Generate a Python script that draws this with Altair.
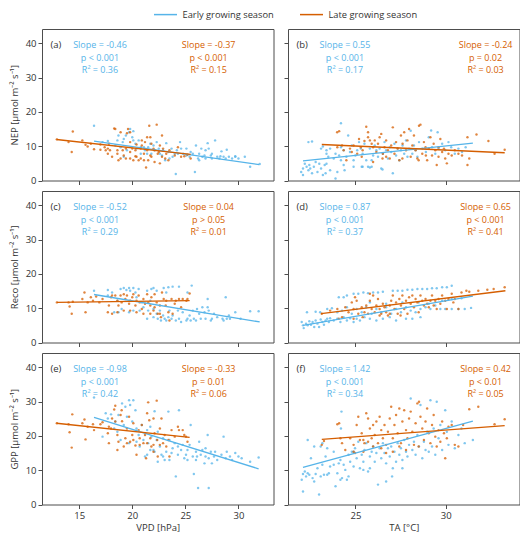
import altair as alt
import pandas as pd

BLUE = "#56B4E9"
ORANGE = "#D55E00"
INK = "#333333"
FRAME = "#4d4d4d"
FONT = "Open Sans"
SEASONS = ["Early growing season", "Late growing season"]

vpd_ticks = [15, 20, 25, 30]
ta_ticks = [25, 30]
y_ticks = [0, 10, 20, 30, 40]
vpd_domain = [11.5, 33.3]
ta_domain = [21.27, 34.08]
y_domain = [0, 44.2]

row_titles = ["NEP [µmol m⁻² s⁻¹]", "Reco [µmol m⁻² s⁻¹]", "GPP [µmol m⁻² s⁻¹]"]
col_titles = ["VPD [hPa]", "TA [°C]"]
letters = ["(a)", "(b)", "(c)", "(d)", "(e)", "(f)"]

early_stats = [
    ["Slope = -0.46", "p < 0.001", "R² = 0.36"],
    ["Slope = 0.55", "p < 0.001", "R² = 0.17"],
    ["Slope = -0.52", "p < 0.001", "R² = 0.29"],
    ["Slope = 0.87", "p < 0.001", "R² = 0.37"],
    ["Slope = -0.98", "p < 0.001", "R² = 0.42"],
    ["Slope = 1.42", "p < 0.001", "R² = 0.34"],
]
late_stats = [
    ["Slope = -0.37", "p < 0.001", "R² = 0.15"],
    ["Slope = -0.24", "p = 0.02", "R² = 0.03"],
    ["Slope = 0.04", "p > 0.05", "R² = 0.01"],
    ["Slope = 0.65", "p < 0.001", "R² = 0.41"],
    ["Slope = -0.33", "p = 0.01", "R² = 0.06"],
    ["Slope = 0.42", "p < 0.01", "R² = 0.05"],
]

# fitted line end points: [x_start, x_end, y_start, y_end]
fit_early = [
    [16.4, 31.95, 11.5, 4.65],
    [22.1, 31.5, 5.7, 10.9],
    [16.4, 32.0, 14.0, 6.0],
    [22.1, 31.5, 5.0, 13.5],
    [16.4, 31.9, 25.4, 10.4],
    [22.1, 31.5, 10.8, 24.3],
]
fit_late = [
    [12.87, 25.5, 11.96, 7.6],
    [23.14, 33.26, 10.5, 8.1],
    [12.9, 25.4, 11.7, 12.2],
    [23.1, 33.3, 8.4, 15.1],
    [12.87, 25.4, 23.7, 19.6],
    [23.14, 33.26, 19.0, 23.0],
]

# (a) VPD vs NEP
a_early = [[16.4,16.0],[17.2,11.2],[17.7,11.5],[18.4,10.2],[18.6,11.7],[19.1,11.2],[19.4,13.1],[19.7,14.1],[19.8,15.0],[20.1,14.4],[20.0,12.6],[20.3,10.7],[20.4,9.3],[20.6,11.7],[20.8,9.7],[21.1,9.7],[21.2,8.8],[21.5,9.7],[21.7,10.7],[22.0,10.2],[22.1,8.8],[22.3,11.2],[22.5,9.3],[22.8,7.3],[22.9,8.8],[23.2,10.9],[23.4,8.3],[23.7,9.3],[23.8,6.9],[24.0,7.8],[24.1,1.9],[24.3,7.8],[24.5,11.2],[24.6,9.3],[24.8,7.8],[25.1,7.3],[25.4,6.9],[25.7,7.8],[25.9,2.5],[26.0,10.2],[26.2,6.4],[26.3,7.8],[26.5,9.3],[26.6,6.9],[26.8,7.3],[26.9,6.4],[27.1,10.9],[27.2,9.3],[27.4,7.3],[27.5,6.4],[27.8,11.7],[28.0,6.9],[28.2,6.4],[28.4,8.5],[28.6,6.9],[28.9,9.0],[29.1,6.9],[29.4,6.4],[29.7,7.1],[30.0,6.4],[30.6,6.9],[31.1,4.0],[32.0,4.8],[18.9,9.7],[19.2,6.9],[19.5,8.8],[20.8,7.8],[21.4,7.8],[21.8,7.8],[22.6,7.8],[23.1,5.9],[23.5,6.4],[24.2,8.8],[25.1,9.3],[25.5,8.3],[26.3,5.9],[26.9,8.8],[27.5,7.8],[28.3,7.1],[28.8,6.4],[29.7,6.9],[20.1,11.7],[18.7,13.1],[19.2,12.1]]
a_late = [[12.9,12.0],[14.4,14.3],[14.3,8.3],[14.0,11.2],[15.3,11.7],[15.6,10.4],[15.8,9.9],[16.1,10.7],[16.4,9.1],[17.0,10.5],[17.4,9.7],[17.7,9.3],[17.8,10.7],[17.9,8.8],[18.3,15.2],[18.4,15.0],[18.6,8.8],[18.9,14.1],[19.1,8.8],[19.2,7.3],[19.4,6.4],[19.5,13.8],[19.6,15.0],[19.8,8.3],[20.0,9.3],[20.1,5.9],[20.3,7.1],[20.4,6.9],[20.8,6.4],[20.9,10.2],[21.1,7.8],[21.2,11.2],[21.3,3.8],[21.5,5.9],[21.6,16.0],[21.7,12.6],[21.8,6.9],[22.0,9.3],[22.1,5.4],[22.3,16.3],[22.4,7.8],[22.6,5.0],[22.8,13.1],[22.9,9.3],[23.1,6.4],[23.2,7.8],[23.4,5.9],[23.5,8.8],[24.0,7.3],[24.3,9.7],[24.6,6.9],[24.9,7.1],[25.2,7.5],[25.5,6.4],[18.1,6.9],[18.7,5.9],[19.8,6.4],[20.6,5.9],[18.9,6.4],[19.4,9.3],[20.3,8.8],[20.8,9.3],[21.4,8.8],[18.6,7.8],[17.7,7.8],[17.0,9.0],[17.5,8.8],[22.1,8.8],[22.5,8.3],[22.8,6.9],[21.7,7.3],[21.1,5.9],[20.4,10.5],[19.8,11.2],[21.8,10.7],[19.8,14.1],[22.6,10.2],[20.9,11.7],[21.4,12.6]]

# (b) TA vs NEP
b_early = [[22.1,3.5],[22.0,2.5],[22.1,1.6],[22.3,4.0],[22.4,3.0],[22.45,4.5],[22.5,3.5],[22.6,2.1],[22.2,4.9],[22.7,4.0],[22.8,5.4],[22.9,2.5],[23.0,4.9],[23.1,3.5],[23.2,1.6],[23.3,4.5],[23.9,0.6],[22.4,11.2],[22.6,11.4],[23.1,9.3],[23.2,9.9],[23.4,7.8],[23.4,8.8],[23.5,6.9],[23.6,9.3],[23.8,6.4],[23.9,7.8],[24.0,2.5],[24.1,7.3],[24.2,16.7],[24.2,9.7],[24.35,8.8],[24.4,3.0],[24.5,6.9],[24.6,13.1],[24.7,8.3],[24.8,10.2],[24.9,5.9],[25.0,7.3],[25.1,8.8],[25.2,11.2],[25.3,9.3],[25.35,4.0],[25.4,7.8],[25.5,10.7],[25.6,5.9],[25.7,4.0],[25.8,9.3],[25.9,4.0],[25.98,7.3],[26.07,10.2],[26.16,8.8],[26.25,6.9],[26.34,9.3],[26.43,3.5],[26.52,7.8],[26.61,11.2],[26.7,8.8],[26.8,6.4],[26.9,9.7],[26.98,8.3],[27.07,2.1],[27.16,10.7],[27.25,7.3],[27.34,9.3],[27.43,5.9],[27.52,8.8],[27.61,10.2],[27.7,7.8],[27.8,11.7],[27.88,6.9],[27.97,9.3],[28.06,14.5],[28.15,7.8],[28.24,10.2],[28.33,8.8],[28.43,6.9],[28.52,11.2],[28.7,9.3],[28.9,8.3],[29.06,12.6],[29.19,14.6],[29.24,9.7],[29.42,7.8],[29.55,14.1],[29.6,9.3],[29.8,10.7],[29.97,8.8],[30.15,11.2],[30.3,9.7],[30.5,7.8],[30.7,9.3],[30.9,8.3],[31.1,9.7],[25.4,4.0],[25.8,3.8],[26.5,3.2],[25.9,5.9],[24.9,4.0],[24.35,4.5],[23.6,3.0],[23.4,4.9],[23.35,2.1],[24.2,5.9]]
b_late = [[23.99,14.1],[24.1,14.4],[25.6,15.7],[25.7,14.1],[25.7,12.6],[25.5,11.5],[25.2,12.1],[24.9,10.2],[24.7,9.3],[24.26,10.2],[24.0,9.7],[24.35,8.8],[24.8,8.3],[25.1,7.8],[25.3,9.7],[25.4,8.8],[25.8,11.7],[25.9,10.7],[25.98,9.7],[26.07,11.7],[26.16,8.3],[26.25,10.7],[26.34,12.6],[26.43,13.6],[26.52,7.8],[26.61,9.7],[26.7,11.7],[26.8,8.8],[26.9,6.4],[26.98,10.2],[27.07,15.5],[27.16,7.8],[27.25,11.2],[27.34,9.3],[27.43,5.9],[27.52,13.1],[27.61,10.7],[27.7,14.1],[27.8,8.8],[27.88,11.7],[27.97,15.0],[28.06,6.9],[28.15,10.2],[28.24,13.1],[28.33,8.8],[28.43,6.4],[28.52,16.0],[28.6,16.3],[28.7,7.8],[28.79,11.2],[28.88,9.7],[28.97,5.9],[29.06,9.3],[29.15,12.6],[29.24,7.3],[29.33,10.7],[29.42,8.8],[29.5,4.5],[29.6,6.9],[29.7,12.1],[29.8,8.3],[29.9,9.3],[29.97,6.4],[30.06,5.0],[30.15,7.8],[30.33,7.3],[30.5,8.8],[30.7,7.8],[30.9,7.3],[31.2,4.5],[31.2,12.6],[31.3,6.4],[31.7,13.4],[32.36,11.5],[32.7,7.8],[33.26,9.0],[24.5,5.9],[25.35,6.9],[25.98,5.4],[26.7,6.9],[26.5,6.4],[27.6,6.4],[28.5,5.9],[28.9,7.3],[29.6,9.7]]

# (c) VPD vs Reco
c_early = [[16.4,15.1],[17.7,15.3],[18.1,14.6],[18.9,15.6],[19.2,15.9],[19.45,15.3],[19.7,15.9],[19.8,15.1],[20.1,15.9],[20.3,14.6],[20.6,15.6],[21.4,15.1],[21.8,15.6],[22.0,15.9],[22.3,15.1],[22.96,15.9],[23.2,14.6],[23.4,16.1],[23.8,16.3],[24.4,16.3],[25.2,14.6],[25.6,16.6],[18.3,8.8],[18.7,8.8],[19.0,9.8],[19.7,8.8],[20.1,9.3],[20.7,9.3],[21.05,10.3],[21.5,9.3],[21.7,12.2],[22.0,9.8],[22.3,8.4],[22.4,6.9],[22.6,9.3],[22.7,6.4],[22.9,7.9],[23.05,6.9],[23.2,6.4],[23.4,7.4],[23.5,9.3],[23.7,6.9],[23.8,7.9],[24.1,6.4],[24.3,9.3],[24.4,6.9],[24.6,6.0],[24.75,8.8],[25.1,6.4],[25.2,6.9],[25.4,7.9],[25.5,6.4],[25.7,9.3],[25.8,6.9],[26.0,6.4],[26.1,9.8],[26.3,8.4],[26.45,6.9],[26.6,10.3],[26.8,8.8],[26.9,6.9],[27.1,12.7],[27.1,10.3],[27.2,9.3],[27.4,6.4],[27.5,6.9],[27.7,8.4],[28.0,7.4],[28.5,6.9],[28.6,6.4],[28.8,13.2],[28.9,6.9],[29.1,7.9],[29.2,6.9],[29.7,8.8],[30.2,6.9],[31.1,9.1],[31.9,9.1],[21.4,6.9],[22.0,7.4],[20.9,11.7],[20.4,13.2],[18.6,12.2],[17.7,13.7]]
c_late = [[12.9,11.7],[14.0,11.7],[14.1,10.5],[14.3,8.4],[14.4,11.9],[15.3,12.7],[15.5,14.6],[15.6,8.8],[15.8,11.7],[16.1,13.2],[16.3,12.2],[16.6,13.4],[16.9,11.7],[17.2,12.7],[17.7,8.8],[17.8,10.8],[18.0,13.2],[18.1,8.4],[18.4,13.7],[18.6,12.2],[18.7,10.8],[18.9,13.7],[19.0,11.7],[19.2,9.3],[19.35,12.7],[19.5,13.7],[19.7,11.3],[19.8,12.2],[20.0,13.2],[20.3,10.8],[20.4,12.2],[20.6,13.7],[20.7,11.7],[20.9,9.8],[21.05,12.7],[21.2,11.3],[21.4,14.1],[21.5,11.7],[21.7,10.8],[21.8,13.2],[22.0,9.3],[22.1,14.1],[22.3,11.7],[22.4,8.4],[22.6,10.8],[22.7,7.4],[22.8,14.6],[22.96,12.7],[23.15,10.8],[23.4,8.8],[23.5,6.4],[23.7,12.7],[24.0,11.3],[24.1,12.2],[24.4,12.7],[24.6,10.3],[24.75,12.7],[25.1,12.2],[25.2,12.7],[25.4,14.3],[18.1,13.7],[18.6,8.8],[20.4,8.8],[19.8,9.3],[21.05,8.4],[21.7,8.4],[22.1,10.3],[22.6,8.4],[23.8,8.4],[23.2,12.2],[19.2,14.1],[20.1,14.1]]

# (d) TA vs Reco
d_early = [[22.03,6.0],[22.1,5.0],[22.14,4.2],[22.27,5.5],[22.36,5.0],[22.45,6.2],[22.54,5.2],[22.63,6.0],[22.72,4.5],[22.8,6.4],[22.9,5.5],[22.99,4.5],[23.08,6.7],[23.17,6.0],[23.26,5.2],[23.35,6.4],[23.44,6.9],[23.53,6.0],[23.6,7.1],[23.8,6.4],[24.0,6.9],[24.17,6.0],[24.35,7.4],[24.53,6.4],[24.71,7.1],[24.9,6.0],[25.07,6.9],[25.25,6.4],[25.5,7.4],[25.8,6.9],[26.16,6.4],[26.52,6.9],[26.9,7.4],[27.25,6.4],[27.8,6.9],[28.15,6.9],[28.6,7.4],[22.32,8.85],[22.8,9.0],[23.05,8.85],[23.44,9.8],[23.7,10.0],[24.0,8.85],[24.26,9.3],[24.53,10.3],[24.8,8.4],[25.07,9.8],[25.35,8.85],[25.6,10.3],[25.9,8.4],[26.16,9.8],[26.43,8.85],[26.7,10.3],[26.98,8.4],[27.25,9.8],[27.52,8.85],[27.8,10.3],[28.06,9.3],[28.33,8.85],[28.6,9.8],[28.88,10.3],[29.15,9.8],[29.42,10.8],[29.7,9.8],[29.97,9.8],[30.33,9.8],[30.7,9.8],[31.05,9.8],[31.4,10.1],[28.5,11.7],[29.06,11.3],[29.8,12.2],[30.33,12.7],[30.87,12.9],[25.8,11.7],[26.7,11.3],[27.6,11.7],[24.08,13.2],[24.35,13.2],[24.53,13.7],[24.9,14.2],[25.16,14.2],[25.44,14.6],[25.7,14.4],[25.98,14.6],[26.25,14.6],[26.52,14.8],[27.07,15.1],[27.34,15.1],[27.6,15.1],[27.88,15.4],[28.15,15.4],[28.43,15.6],[28.7,15.6],[28.97,15.6],[29.24,15.8],[29.5,15.8],[29.8,16.1],[30.06,16.1],[30.33,16.56]]
d_late = [[23.14,8.4],[23.6,9.3],[24.0,9.8],[24.08,6.9],[24.26,7.4],[24.44,10.3],[24.62,8.85],[24.8,11.7],[24.9,9.8],[25.07,12.2],[25.16,8.4],[25.35,10.3],[25.5,8.85],[25.6,10.8],[25.7,8.4],[25.8,12.2],[25.9,9.8],[25.98,13.7],[26.07,8.85],[26.16,10.8],[26.25,12.7],[26.34,9.8],[26.43,8.4],[26.52,11.3],[26.61,10.3],[26.7,8.85],[26.8,7.9],[26.9,10.8],[26.98,12.2],[27.07,13.7],[27.16,9.8],[27.25,11.7],[27.34,8.4],[27.43,12.7],[27.52,10.8],[27.6,13.7],[27.7,9.8],[27.8,12.2],[27.88,8.4],[27.97,13.2],[28.06,11.3],[28.15,13.7],[28.24,10.3],[28.33,12.7],[28.43,11.7],[28.5,8.85],[28.6,13.7],[28.7,12.2],[28.79,10.8],[28.88,12.7],[28.97,11.3],[29.06,10.3],[29.15,12.2],[29.24,13.7],[29.33,10.8],[29.42,12.2],[29.5,9.8],[29.6,12.7],[29.7,11.3],[29.8,13.7],[29.97,12.2],[30.06,9.8],[30.15,12.7],[30.33,14.2],[30.42,11.7],[30.5,12.7],[30.7,9.8],[30.87,14.6],[31.14,15.1],[31.3,14.8],[31.8,15.1],[32.3,15.4],[32.65,15.6],[33.26,16.1],[24.9,6.9],[25.4,7.4],[26.34,7.9],[26.9,8.4],[27.5,7.9],[24.98,13.2],[25.8,14.2]]

# (e) VPD vs GPP
e_early = [[16.4,31.2],[17.2,19.8],[17.5,26.6],[17.7,25.1],[18.0,26.3],[18.3,22.2],[18.4,24.2],[18.6,21.2],[18.7,26.1],[18.9,18.8],[19.04,29.5],[19.2,23.2],[19.35,28.5],[19.5,25.6],[19.7,30.4],[19.8,29.0],[20.0,24.2],[20.1,30.4],[20.3,27.5],[20.4,22.2],[20.6,20.3],[20.7,16.9],[20.9,23.2],[21.05,18.8],[21.2,14.0],[21.4,21.7],[21.5,17.9],[21.7,22.7],[21.8,19.8],[22.0,15.9],[22.1,27.2],[22.3,18.8],[22.4,21.2],[22.6,16.9],[22.75,14.5],[22.9,19.3],[23.05,13.0],[23.2,15.4],[23.4,27.1],[23.5,18.8],[23.7,15.0],[23.8,16.4],[24.0,17.9],[24.1,8.2],[24.3,14.5],[24.4,27.5],[24.6,15.9],[24.75,17.4],[24.9,13.5],[25.06,14.5],[25.2,15.9],[25.4,17.4],[25.5,23.2],[25.7,14.0],[25.8,8.9],[26.0,15.4],[26.1,14.0],[26.3,18.3],[26.45,14.5],[26.6,15.9],[26.8,12.0],[26.9,16.4],[27.1,20.3],[27.2,4.8],[27.2,13.5],[27.4,15.4],[27.5,12.0],[27.7,14.0],[27.8,15.4],[28.0,13.0],[28.4,14.5],[28.6,19.8],[28.8,13.5],[28.9,15.4],[29.2,14.0],[29.4,13.0],[29.7,15.0],[30.0,14.0],[30.3,13.5],[31.1,12.5],[31.9,13.7],[26.2,4.8],[21.4,14.5],[21.7,15.9],[22.1,15.4],[22.4,12.5],[22.9,14.0],[23.5,13.0],[24.3,16.9],[25.2,13.0],[26.0,13.0],[26.9,14.0],[19.7,17.9],[20.4,18.3]]
e_late = [[12.9,23.7],[14.0,23.4],[14.1,21.1],[14.3,16.6],[14.35,26.3],[15.3,23.7],[15.5,24.8],[15.6,19.0],[15.8,22.7],[16.3,23.4],[16.4,21.7],[17.0,23.4],[17.2,24.0],[17.7,20.8],[17.8,17.9],[18.0,22.2],[18.1,25.1],[18.3,27.7],[18.4,28.8],[18.6,20.3],[18.7,18.3],[18.9,26.1],[19.04,24.3],[19.2,16.9],[19.35,19.3],[19.5,22.2],[19.7,25.6],[19.8,18.3],[20.0,20.3],[20.1,23.7],[20.3,17.2],[20.4,14.5],[20.6,21.7],[20.7,19.3],[20.9,23.2],[21.05,17.9],[21.2,20.3],[21.3,13.5],[21.5,29.8],[21.6,24.6],[21.7,19.3],[21.8,16.9],[22.0,25.1],[22.1,20.8],[22.3,30.3],[22.35,18.8],[22.4,14.0],[22.6,22.2],[22.75,25.1],[22.9,17.9],[23.05,20.3],[23.2,16.9],[23.4,18.8],[23.5,14.0],[23.7,21.7],[24.0,19.8],[24.3,22.7],[24.4,21.7],[24.75,21.7],[24.9,20.3],[25.06,19.8],[25.2,18.3],[17.8,22.7],[18.6,15.9],[19.5,17.9],[20.1,18.8],[20.7,17.4],[21.4,17.9],[22.0,15.4],[22.6,17.4],[18.4,24.2],[19.0,27.5],[21.4,26.6],[22.0,17.4]]

# (f) TA vs GPP
f_early = [[22.1,8.9],[22.03,7.2],[22.1,3.8],[22.2,9.6],[22.27,8.2],[22.36,9.1],[22.45,8.7],[22.54,13.5],[22.63,7.7],[22.72,6.7],[22.8,8.9],[22.9,10.6],[22.99,2.9],[23.08,8.2],[23.17,11.6],[23.26,8.7],[23.35,14.0],[23.44,8.7],[23.53,9.1],[23.6,11.1],[23.8,11.6],[23.9,5.3],[24.0,9.1],[24.08,12.0],[24.17,13.0],[24.23,27.1],[24.26,7.7],[24.35,11.6],[24.44,10.1],[24.53,7.2],[24.62,14.5],[24.71,12.5],[24.8,15.4],[24.9,11.1],[24.98,16.4],[25.07,13.5],[25.16,18.3],[25.25,10.6],[25.35,14.5],[25.44,12.5],[25.5,15.9],[25.6,17.9],[25.7,9.6],[25.8,14.0],[25.9,15.4],[25.98,16.9],[26.07,12.5],[26.16,15.0],[26.25,5.8],[26.34,16.4],[26.43,13.5],[26.52,17.9],[26.61,15.0],[26.7,12.0],[26.8,16.4],[26.9,14.0],[26.98,16.9],[27.03,8.2],[27.16,15.4],[27.25,12.5],[27.34,17.9],[27.43,14.5],[27.52,16.4],[27.6,13.0],[27.7,18.8],[27.8,15.4],[27.88,14.0],[27.97,17.4],[28.06,30.9],[28.15,15.9],[28.24,18.3],[28.33,14.5],[28.43,20.3],[28.52,16.9],[28.6,29.0],[28.7,13.5],[28.79,18.3],[28.88,15.9],[28.97,21.2],[29.06,15.4],[29.15,30.4],[29.24,16.9],[29.33,22.2],[29.42,14.5],[29.5,30.0],[29.6,19.3],[29.7,23.2],[29.8,15.9],[29.97,27.5],[30.06,21.2],[30.15,17.4],[30.33,24.2],[30.5,16.4],[30.7,20.3],[30.87,22.2],[31.05,17.9],[31.5,18.8],[26.7,6.7],[27.07,10.6],[25.8,10.6],[25.44,10.1],[24.62,8.2],[24.17,7.2],[23.8,15.4],[23.44,16.4],[23.08,16.9],[22.72,16.9],[22.36,18.8],[23.17,17.9],[24.2,22.2],[24.9,15.4],[27.6,10.6]]
f_late = [[23.14,17.4],[23.26,18.5],[24.0,23.4],[24.1,23.7],[24.17,19.3],[24.26,17.9],[24.44,15.9],[24.71,19.3],[24.9,17.4],[24.98,15.0],[25.07,23.2],[25.16,25.6],[25.25,18.8],[25.35,20.8],[25.44,18.8],[25.5,17.9],[25.6,26.6],[25.7,25.1],[25.8,22.2],[25.9,19.3],[25.98,23.2],[26.07,20.3],[26.16,24.2],[26.25,17.9],[26.34,25.6],[26.43,21.7],[26.52,19.3],[26.61,23.2],[26.7,17.4],[26.8,21.2],[26.9,25.1],[26.98,28.5],[27.07,19.3],[27.16,23.2],[27.25,26.1],[27.34,20.8],[27.43,28.0],[27.52,17.9],[27.6,24.2],[27.7,27.5],[27.8,21.7],[27.88,19.3],[27.97,25.1],[28.06,27.1],[28.15,21.2],[28.24,17.4],[28.33,23.7],[28.43,29.5],[28.52,30.0],[28.6,25.6],[28.7,22.2],[28.79,18.8],[28.88,24.2],[28.97,28.0],[29.06,20.8],[29.15,17.9],[29.24,23.2],[29.33,26.1],[29.42,19.8],[29.5,16.9],[29.6,21.7],[29.7,18.3],[29.8,24.2],[29.9,20.8],[29.97,13.5],[30.06,19.3],[30.15,22.7],[30.33,23.2],[30.5,17.4],[30.7,16.9],[30.96,23.2],[31.3,27.8],[31.8,28.5],[32.7,23.4],[33.26,24.9],[24.9,15.4],[25.44,15.4],[25.98,16.9],[27.07,15.4],[27.8,15.9],[28.5,16.9],[25.7,18.3],[26.43,16.4],[27.43,16.9],[26.7,15.0]]

early_sets = [a_early, b_early, c_early, d_early, e_early, f_early]
late_sets = [a_late, b_late, c_late, d_late, e_late, f_late]

color_scale = alt.Scale(domain=SEASONS, range=[BLUE, ORANGE])
legend_def = alt.Legend(
    title=None, orient="none", legendX=117, legendY=-21, direction="horizontal",
    symbolType="M-2,0H2", symbolSize=132, symbolStrokeWidth=1.5,
    labelFontSize=9.3, labelFont=FONT, labelColor=INK,
    columnPadding=23, labelOffset=10.5,
)

PW, PH = 231.5, 151.5
LINE_Y = [16, 28.5, 40.8]
SCALE_X = PW / 235.5


def panel(i):
    r, c = divmod(i, 2)
    bottom = r == 2
    left = c == 0
    xdom = vpd_domain if left else ta_domain
    xt = vpd_ticks if left else ta_ticks
    xaxis = alt.Axis(values=xt, labels=bottom, title=col_titles[c] if bottom else None)
    yaxis = alt.Axis(values=y_ticks, labels=left, title=row_titles[r] if left else None)
    X = alt.X("x:Q", scale=alt.Scale(domain=xdom, nice=False, zero=False), axis=xaxis)
    Y = alt.Y("y:Q", scale=alt.Scale(domain=y_domain, nice=False, zero=False), axis=yaxis)

    early_df = pd.DataFrame(early_sets[i], columns=["x", "y"])
    late_df = pd.DataFrame(late_sets[i], columns=["x", "y"])
    fe, fl = fit_early[i], fit_late[i]
    fit_df = pd.DataFrame({
        "x": [fe[0], fe[1], fl[0], fl[1]],
        "y": [fe[2], fe[3], fl[2], fl[3]],
        "season": [SEASONS[0], SEASONS[0], SEASONS[1], SEASONS[1]],
    })

    layers = [
        alt.Chart(early_df).mark_circle(size=6, opacity=0.75, color=BLUE).encode(x=X, y=Y),
        alt.Chart(late_df).mark_circle(size=6, opacity=0.75, color=ORANGE).encode(x=X, y=Y),
        alt.Chart(fit_df).mark_line(strokeWidth=1.3).encode(
            x=X, y=Y, color=alt.Color("season:N", scale=color_scale, legend=legend_def),
            detail="season:N",
        ),
    ]
    one = pd.DataFrame({"k": [0]})
    layers.append(alt.Chart(one).mark_text(
        text=letters[i], align="left", baseline="middle", fontSize=9.5, font=FONT, color=INK
    ).encode(x=alt.value(8.4), y=alt.value(LINE_Y[0])))
    ex = (59 if left else 58) * SCALE_X
    lx = (169.5 if left else 201) * SCALE_X
    for k in range(3):
        layers.append(alt.Chart(one).mark_text(
            text=early_stats[i][k], align="center", baseline="middle",
            fontSize=9, font=FONT, color=BLUE
        ).encode(x=alt.value(ex), y=alt.value(LINE_Y[k])))
        layers.append(alt.Chart(one).mark_text(
            text=late_stats[i][k], align="center", baseline="middle",
            fontSize=9, font=FONT, color=ORANGE
        ).encode(x=alt.value(lx), y=alt.value(LINE_Y[k])))
    return alt.layer(*layers).properties(width=PW, height=PH)


rows_charts = [alt.hconcat(panel(2 * r), panel(2 * r + 1), spacing=9) for r in range(3)]
chart = alt.vconcat(*rows_charts, spacing=4).properties(
    padding={"left": 0, "top": 0, "right": 0, "bottom": 0}
).configure_view(
    stroke=FRAME, strokeWidth=1
).configure_axis(
    domain=False, grid=False, tickColor=FRAME, tickSize=4, labelPadding=2,
    labelColor=INK, titleColor=INK, labelFont=FONT, titleFont=FONT,
    labelFontSize=9.5, titleFontSize=9.5, titleFontWeight="normal",
).configure_axisX(titlePadding=2).configure_axisY(titlePadding=6)

chart.save("out.html", embed_options={"renderer": "svg", "actions": False})
